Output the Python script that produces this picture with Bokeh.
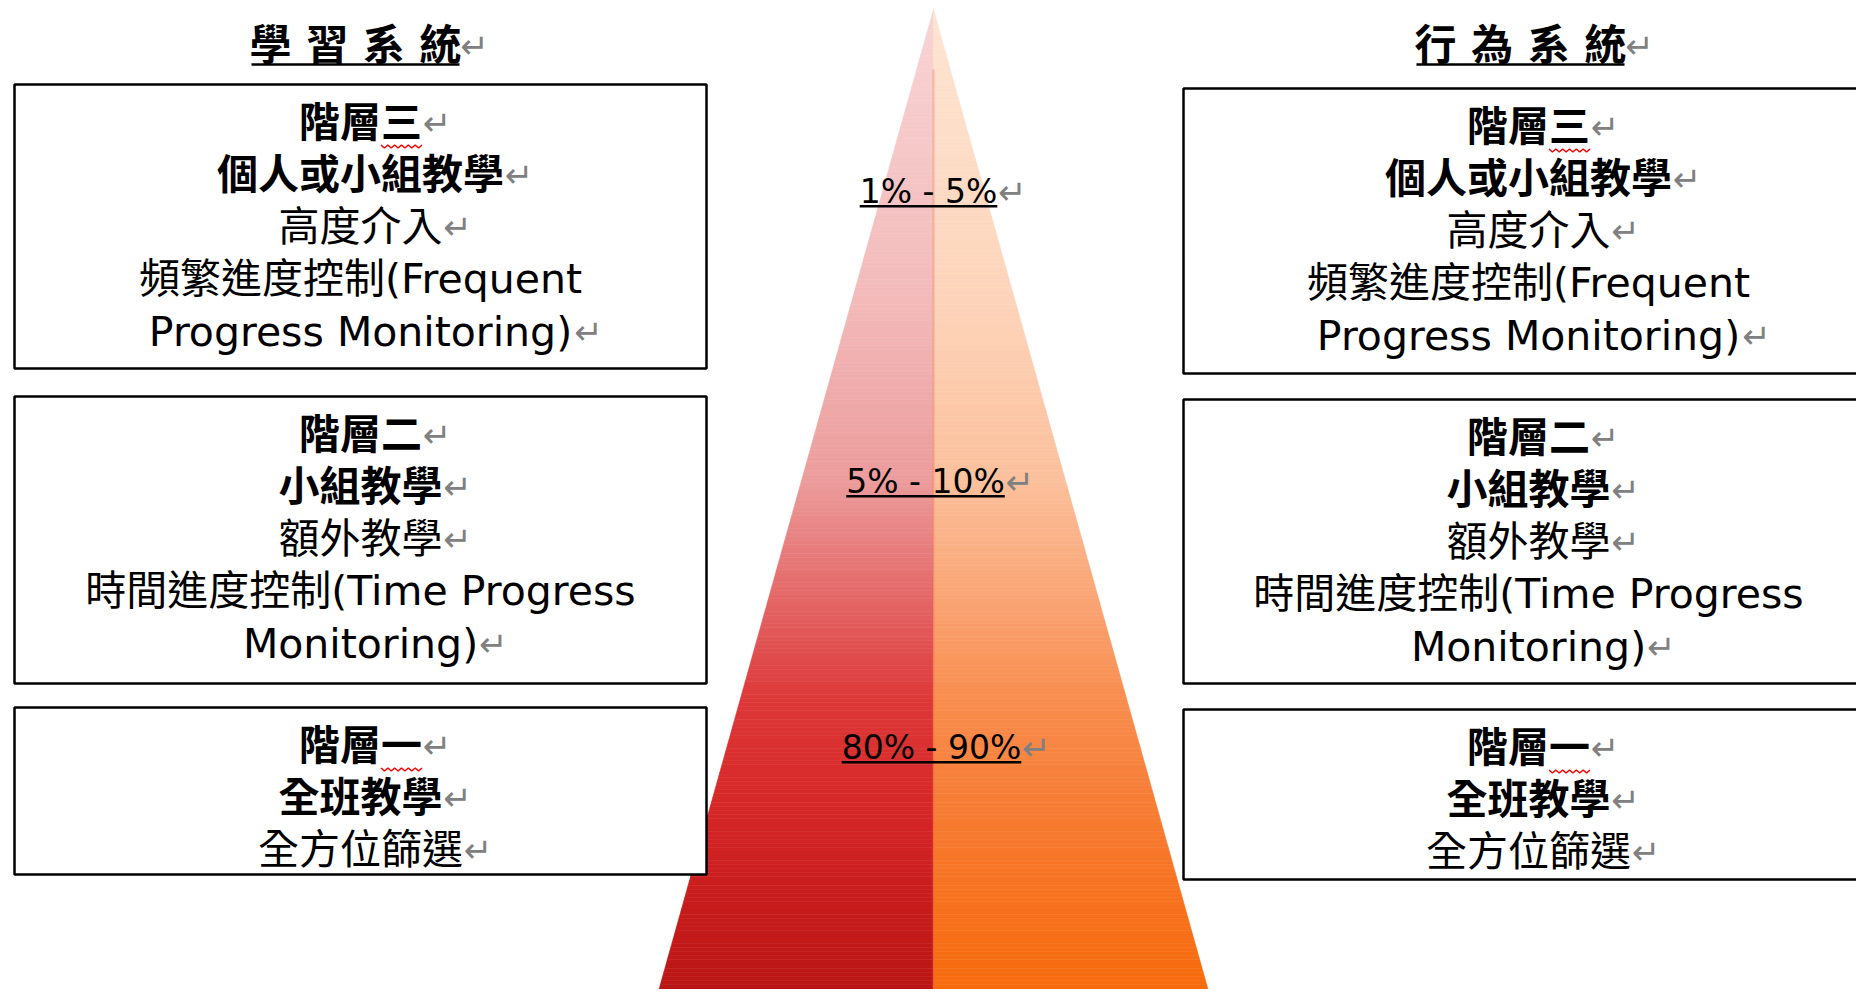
import numpy as np
from bokeh.plotting import figure
from bokeh.models import ColumnDataSource, Range1d
from bokeh.core.properties import value
from bokeh.embed import file_html
from bokeh.resources import INLINE

# ---------------- data ----------------
system_titles = ["學 習 系 統", "行 為 系 統"]
tier_names = ["階層三", "階層二", "階層一"]
tier_focus = ["個人或小組教學", "小組教學", "全班教學"]
# each tier: list of paragraphs, each paragraph a list of wrapped lines
tier_desc = [
    [["高度介入"], ["頻繁進度控制(Frequent", "Progress Monitoring)"]],
    [["額外教學"], ["時間進度控制(Time Progress", "Monitoring)"]],
    [["全方位篩選"]],
]
percent_labels = ["1% - 5%", "5% - 10%", "80% - 90%"]
squiggle_tiers = ["階層三", "階層一"]

# ---------------- layout / style ----------------
W, H = 1856, 989
FONT = "DejaVu Sans, Noto Sans CJK TC"
BODY_FS = 41
TITLE_FS = 42
PCT_FS = 33
ARROW_FS = 34
ARROW_COLOR = "#808080"

sides = [
    dict(cx=360, left=14, right=706, tops=[84, 396, 707], bottoms=[368, 683, 874], title_x=355),
    dict(cx=1528, left=1183, right=1874, tops=[88, 399, 709], bottoms=[373, 683, 879], title_x=1520),
]
TITLE_Y = 45
LINE_OFF = 38
LINE_STEP = 52.3
pct_x = [928, 925, 931]
pct_y = [191, 481, 747]

ADV = {' ': .318, '(': .390, ')': .390, '%': .950, '-': .361, 'F': .575, 'M': .863,
       'P': .603, 'T': .611, 'e': .615, 'g': .635, 'i': .278, 'm': .974, 'n': .634,
       'o': .612, 'q': .635, 'r': .411, 's': .521, 't': .392, 'u': .634}


def est_w(s, fs):
    w = 0.0
    for ch in s:
        if ord(ch) > 0x2E80:
            w += 1.0
        elif ch.isdigit():
            w += .636
        else:
            w += ADV.get(ch, .6)
    return w * fs


p = figure(width=W, height=H, output_backend="svg", toolbar_location=None,
           x_range=Range1d(0, W), y_range=Range1d(H, 0),
           min_border=0)
p.axis.visible = False
p.grid.visible = False
p.outline_line_color = None
p.background_fill_color = "white"
p.border_fill_color = "white"

# ---------------- pyramid ----------------
apex_x, apex_y = 933, 9
base_y, base_l, base_r = 1005, 654, 1212
left_stops = [(8, "#F8D4D4"), (300, "#F3BABA"), (480, "#EC9C9C"), (600, "#E46666"),
              (700, "#DD3838"), (800, "#D72828"), (900, "#C81C1C"), (1005, "#B81515")]
right_stops = [(8, "#FDE5D3"), (300, "#FDD4BA"), (480, "#FBC09C"), (600, "#FAA474"),
               (700, "#F88D4E"), (800, "#F77D36"), (900, "#F7721F"), (1005, "#F66A0A")]


def grad(stops, y):
    ys = [s[0] for s in stops]
    rgb = np.array([[int(c[1:3], 16), int(c[3:5], 16), int(c[5:7], 16)] for _, c in stops])
    r = [int(round(np.interp(y, ys, rgb[:, k]))) for k in range(3)]
    return "#%02x%02x%02x" % tuple(r)


def xl(y):
    return apex_x + (base_l - apex_x) * (y - apex_y) / (base_y - apex_y)


def xr(y):
    return apex_x + (base_r - apex_x) * (y - apex_y) / (base_y - apex_y)


N = 240
edges = np.linspace(apex_y, base_y, N + 1)
pxs, pys, pcol = [], [], []
for i in range(N):
    y0, y1 = edges[i], edges[i + 1]
    ym = (y0 + y1) / 2
    pxs.append([xl(y0), apex_x, apex_x, xl(y1)])
    pys.append([y0, y0, y1, y1])
    pcol.append(grad(left_stops, ym))
    pxs.append([apex_x, xr(y0), xr(y1), apex_x])
    pys.append([y0, y0, y1, y1])
    pcol.append(grad(right_stops, ym))
p.patches(xs=pxs, ys=pys, fill_color=pcol, line_color=pcol, line_width=0.6)
p.segment(x0=[apex_x], y0=[apex_y + 60], x1=[apex_x], y1=[base_y], line_color="#EE6A4A",
          line_width=2, line_alpha=0.35)

# ---------------- boxes ----------------
ql, qr, qt, qb = [], [], [], []
for s in sides:
    for t, b in zip(s["tops"], s["bottoms"]):
        ql.append(s["left"]); qr.append(s["right"]); qt.append(t); qb.append(b)
p.quad(left=ql, right=qr, top=qt, bottom=qb, fill_color="white",
       line_color="black", line_width=2.5)

# ---------------- texts ----------------
bold = dict(x=[], y=[], t=[])
norm = dict(x=[], y=[], t=[])
arrows = dict(x=[], y=[])
sq_x, sq_y = [], []

for s in sides:
    for k in range(3):
        lines = [(tier_names[k], True, True), (tier_focus[k], True, True)]
        for para in tier_desc[k]:
            for j, ln in enumerate(para):
                lines.append((ln, False, j == len(para) - 1))
        for i, (txt, is_bold, ends) in enumerate(lines):
            y = s["tops"][k] + LINE_OFF + LINE_STEP * i
            d = bold if is_bold else norm
            d["x"].append(s["cx"]); d["y"].append(y); d["t"].append(txt)
            if ends:
                arrows["x"].append(s["cx"] + est_w(txt, BODY_FS) / 2 + 1)
                arrows["y"].append(y)
            if txt in squiggle_tiers:
                x0 = s["cx"] - est_w(txt, BODY_FS) / 2 + 2 * BODY_FS
                xs = np.linspace(x0, x0 + BODY_FS, 13)
                ys = y + 0.55 * BODY_FS + np.array([0, 3] * 6 + [0])
                sq_x.append(list(xs)); sq_y.append(list(ys))

p.text(x="x", y="y", text="t", source=ColumnDataSource(bold),
       text_font=value(FONT), text_font_size=value(f"{BODY_FS}px"), text_font_style="bold",
       text_align="center", text_baseline="middle", text_color="black")
p.text(x="x", y="y", text="t", source=ColumnDataSource(norm),
       text_font=value(FONT), text_font_size=value(f"{BODY_FS}px"),
       text_align="center", text_baseline="middle", text_color="black")
p.multi_line(xs=sq_x, ys=sq_y, line_color="#FF0000", line_width=1.5)

# titles
tx = [s["title_x"] for s in sides]
p.text(x=tx, y=[TITLE_Y] * 2, text=system_titles, text_font=value(FONT),
       text_font_size=value(f"{TITLE_FS}px"), text_font_style="bold",
       text_align="center", text_baseline="middle", text_color="black")
tw = [est_w(t, TITLE_FS) for t in system_titles]
p.segment(x0=[x - w / 2 for x, w in zip(tx, tw)], y0=[TITLE_Y + 0.45 * TITLE_FS] * 2,
          x1=[x + w / 2 for x, w in zip(tx, tw)], y1=[TITLE_Y + 0.45 * TITLE_FS] * 2,
          line_color="black", line_width=2.5)
for x, w in zip(tx, tw):
    arrows["x"].append(x + w / 2 + 1); arrows["y"].append(TITLE_Y)

# percentage labels
p.text(x=pct_x, y=pct_y, text=percent_labels, text_font=value(FONT),
       text_font_size=value(f"{PCT_FS}px"), text_align="center", text_baseline="middle",
       text_color="black")
pw = [est_w(t, PCT_FS) for t in percent_labels]
p.segment(x0=[x - w / 2 for x, w in zip(pct_x, pw)], y0=[y + 0.45 * PCT_FS for y in pct_y],
          x1=[x + w / 2 for x, w in zip(pct_x, pw)], y1=[y + 0.45 * PCT_FS for y in pct_y],
          line_color="black", line_width=2.5)
for x, y, w in zip(pct_x, pct_y, pw):
    arrows["x"].append(x + w / 2 + 1); arrows["y"].append(y)

p.text(x="x", y="y", text=value("↵"), source=ColumnDataSource(arrows),
       text_font=value("DejaVu Sans"), text_font_size=value(f"{ARROW_FS}px"),
       text_align="left", text_baseline="middle", text_color=ARROW_COLOR)

open("out.html", "w").write(file_html(p, INLINE))
